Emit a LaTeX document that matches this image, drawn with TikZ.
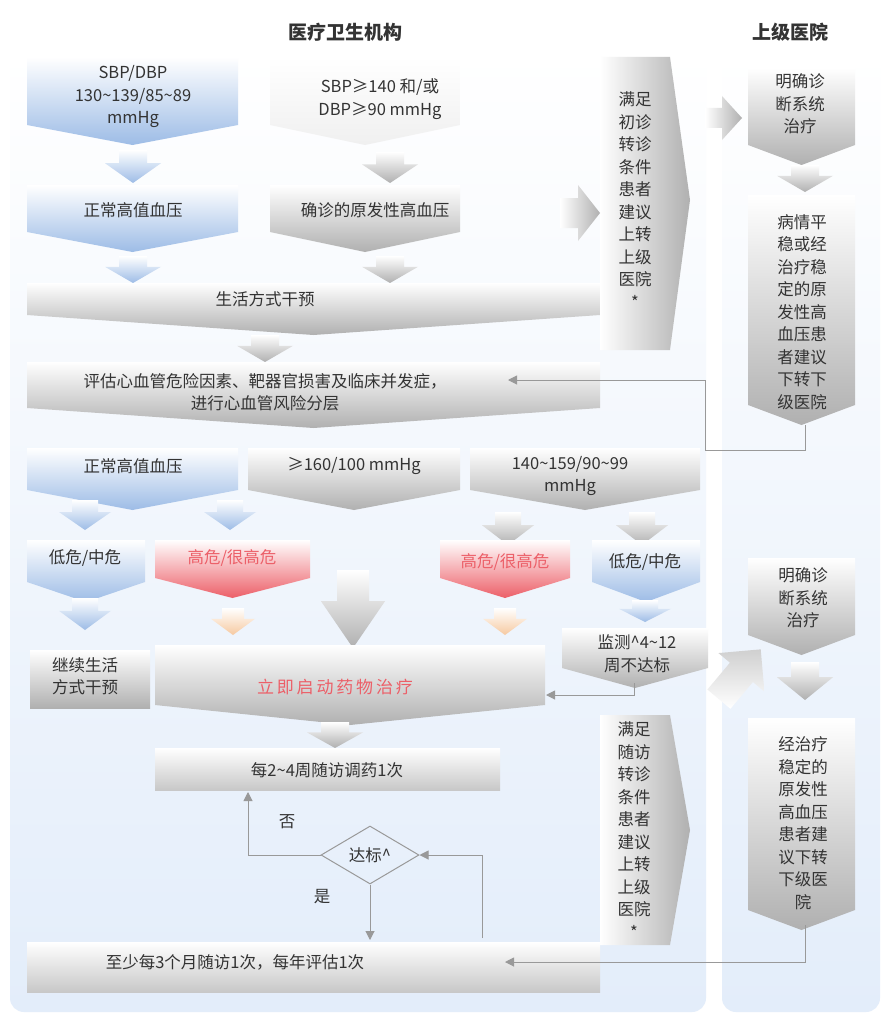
\documentclass[tikz,border=0pt]{standalone}
\usepackage{fontspec}
\setmainfont{Noto Sans CJK SC}
\usetikzlibrary{shapes.geometric,arrows.meta}
\definecolor{bl}{HTML}{9DBCE6}
\definecolor{gr}{HTML}{B0B0B0}
\definecolor{rd}{HTML}{EC5F68}
\definecolor{og}{HTML}{F6C9A0}
\definecolor{bgb}{HTML}{E3EDFA}
\definecolor{tx}{HTML}{333333}
\newcommand\penta[6]{% x1 x2 ytop ybot tip color
  \path[top color=white,bottom color=#6] (#1,#3)--(#2,#3)--(#2,#4)--({(#1+#2)/2},#5)--(#1,#4)--cycle;}
\newcommand\sarr[5]{% x y1 y2 halfwidth color
  \path[top color=white,bottom color=#5] ({#1-#4/2},#2)--({#1+#4/2},#2)--({#1+#4/2},{#2+(#3-#2)*0.4})--({#1+#4},{#2+(#3-#2)*0.4})--(#1,#3)--({#1-#4},{#2+(#3-#2)*0.4})--({#1-#4/2},{#2+(#3-#2)*0.4})--cycle;}
\tikzset{t/.style={font=\fontsize{16.5}{22.5}\selectfont,text=tx,align=center,inner sep=0pt},
 ln/.style={draw=gray!80,line width=1pt},
 ar/.style={ln,-{Triangle[length=9pt,width=9pt]}}}
\begin{document}
\begin{tikzpicture}[x=1pt,y=-1pt]
\useasboundingbox (0,0) rectangle (891,1022);
\fill[white] (0,0) rectangle (891,1022);
\path[rounded corners=14pt,top color=white,bottom color=bgb] (10,50) rectangle (706,1012);
\path[rounded corners=14pt,top color=white,bottom color=bgb] (722,50) rectangle (880,1012);
\node[t,font=\fontsize{19}{22}\selectfont\bfseries] (h1) at (345,32) {医疗卫生机构};
\node[t,font=\fontsize{19}{22}\selectfont\bfseries] (h2) at (790,32) {上级医院};
% top left
\penta{27}{238}{57}{125}{145}{bl}
\node[t] (a1) at (133,97) {SBP/DBP\\130\textasciitilde139/85\textasciitilde89\\mmHg};
\sarr{133}{150}{183}{28}{bl}
\penta{27}{238}{185}{232}{252}{bl}
\node[t] (a2) at (133,210) {正常高值血压};
\sarr{133}{256}{283}{28}{bl}
\penta{270}{460}{57}{125}{145}{gray!12}
\node[t] (b1) at (380,99) {SBP≥140 和/或\\DBP≥90 mmHg};
\sarr{390}{152}{183}{28}{gr}
\penta{270}{460}{185}{232}{252}{gr}
\node[t] (b2) at (375,210) {确诊的原发性高血压};
\sarr{390}{256}{283}{28}{gr}
\penta{27}{600}{283}{315}{335}{gr}
\node[t] (c) at (265,299) {生活方式干预};
\sarr{265}{335}{362}{28}{gr}
\penta{27}{600}{362}{408}{428}{gr}
\node[t] (d) at (265,392) {评估心血管危险因素、靶器官损害及临床并发症，\\进行心血管风险分层};
% tall right chevrons
\path[left color=white,right color=gr] (600,57)--(670,57)--(690,200)--(670,350)--(600,350)--cycle;
\node[t] (e1) at (635,200) {满足\\初诊\\转诊\\条件\\患者\\建议\\上转\\上级\\医院\\*};
\path[left color=white,right color=gr] (560,198)--(578,198)--(578,185)--(600,213)--(578,241)--(578,228)--(560,228)--cycle;
\path[left color=white,right color=gr] (705,108)--(722,108)--(722,96)--(742,118)--(722,140)--(722,128)--(705,128)--cycle;
\path[left color=white,right color=gr] (600,715)--(670,715)--(690,830)--(670,945)--(600,945)--cycle;
\node[t] (e2) at (634,830) {满足\\随访\\转诊\\条件\\患者\\建议\\上转\\上级\\医院\\*};
% right column
\penta{748}{855}{68}{145}{165}{gr}
\node[t] (r1) at (800,104) {明确诊\\断系统\\治疗};
\sarr{805}{165}{192}{28}{gr}
\penta{748}{855}{195}{405}{425}{gr}
\node[t] (r2) at (802,312) {病情平\\稳或经\\治疗稳\\定的原\\发性高\\血压患\\者建议\\下转下\\级医院};
\penta{748}{855}{558}{635}{655}{gr}
\node[t] (r3) at (803,598) {明确诊\\断系统\\治疗};
\sarr{805}{662}{700}{28}{gr}
\penta{748}{855}{718}{910}{930}{gr}
\node[t] (r4) at (803,823) {经治疗\\稳定的\\原发性\\高血压\\患者建\\议下转\\下级医\\院};
\path[top color=gr!60,bottom color=white,rotate around={-40:(735,680)}] (720,705)--(750,705)--(750,670)--(765,670)--(735,640)--(705,670)--(720,670)--cycle;
% stratification row
\penta{27}{238}{448}{490}{510}{bl}
\node[t] (f1) at (133,466) {正常高值血压};
\penta{248}{460}{448}{490}{510}{gr}
\node[t] (f2) at (354,466) {≥160/100 mmHg};
\penta{470}{700}{448}{490}{510}{gr}
\node[t] (f3) at (570,476) {140\textasciitilde159/90\textasciitilde99\\mmHg};
\sarr{85}{500}{530}{26}{bl}
\sarr{230}{500}{530}{26}{bl}
\sarr{508}{512}{545}{26}{gr}
\sarr{642}{512}{545}{26}{gr}
\penta{27}{145}{540}{582}{602}{bl}
\node[t] (g1) at (85,558) {低危/中危};
\penta{155}{310}{540}{578}{598}{rd}
\node[t,text=rd] (g2) at (232,558) {高危/很高危};
\penta{440}{570}{540}{578}{598}{rd}
\node[t,text=rd] (g3) at (505,562) {高危/很高危};
\penta{592}{700}{540}{582}{602}{bl}
\node[t] (g4) at (645,562) {低危/中危};
\sarr{85}{598}{630}{26}{bl}
\sarr{233}{608}{635}{22}{og}
\sarr{353}{570}{648}{32}{gr}
\sarr{505}{608}{635}{22}{og}
\sarr{645}{600}{622}{26}{bl}
\path[top color=white,bottom color=gr] (30,650) rectangle (150,708);
\node[t] (h) at (85,676) {继续生活\\方式干预};
\penta{155}{545}{645}{705}{725}{gr}
\node[t,text=rd,font=\fontsize{17}{20}\selectfont] (m) at (335,687) {立\,即\,启\,动\,药\,物\,治\,疗};
\penta{562}{708}{628}{668}{688}{gr}
\node[t] (k) at (637,654) {监测\textasciicircum4\textasciitilde12\\周不达标};
\coordinate (k1) at (634,683); \coordinate (k2) at (634,695); \coordinate (k3) at (546,695);
\draw[ar] (k1)--(k2)--(k3);
\sarr{335}{722}{748}{28}{gr}
\path[top color=white,bottom color=gr!70] (155,748) rectangle (500,790);
\node[t] (n) at (327,770) {每2\textasciitilde4周随访调药1次};
\node[draw=gray!80,line width=1pt,diamond,aspect=1.8,minimum width=98pt,minimum height=58pt,t] (q) at (370,855) {达标\textasciicircum};
\coordinate (q1) at (248,855); \coordinate (q2) at (248,792);
\draw[ar] (q.west)--(q1)--(q2);
\node[t] (no) at (287,822) {否};
\node[t] (yes) at (322,897) {是};
\path[top color=white,bottom color=gr!70] (27,942) rectangle (600,992);
\node[t] (p) at (235,962) {至少每3个月随访1次，每年评估1次};
\draw[ar] (q.south)--(370,940);
\coordinate (s1) at (482,938); \coordinate (s2) at (482,855);
\draw[ar] (s1)--(s2)--(q.east);
\coordinate (u1) at (805,925); \coordinate (u2) at (805,962); \coordinate (u3) at (505,962);
\draw[ar] (u1)--(u2)--(u3);
\coordinate (v1) at (805,425); \coordinate (v2) at (805,450); \coordinate (v3) at (705,450); \coordinate (v4) at (705,380); \coordinate (v5) at (508,380);
\draw[ar] (v1)--(v2)--(v3)--(v4)--(v5);
\end{tikzpicture}
\end{document}
